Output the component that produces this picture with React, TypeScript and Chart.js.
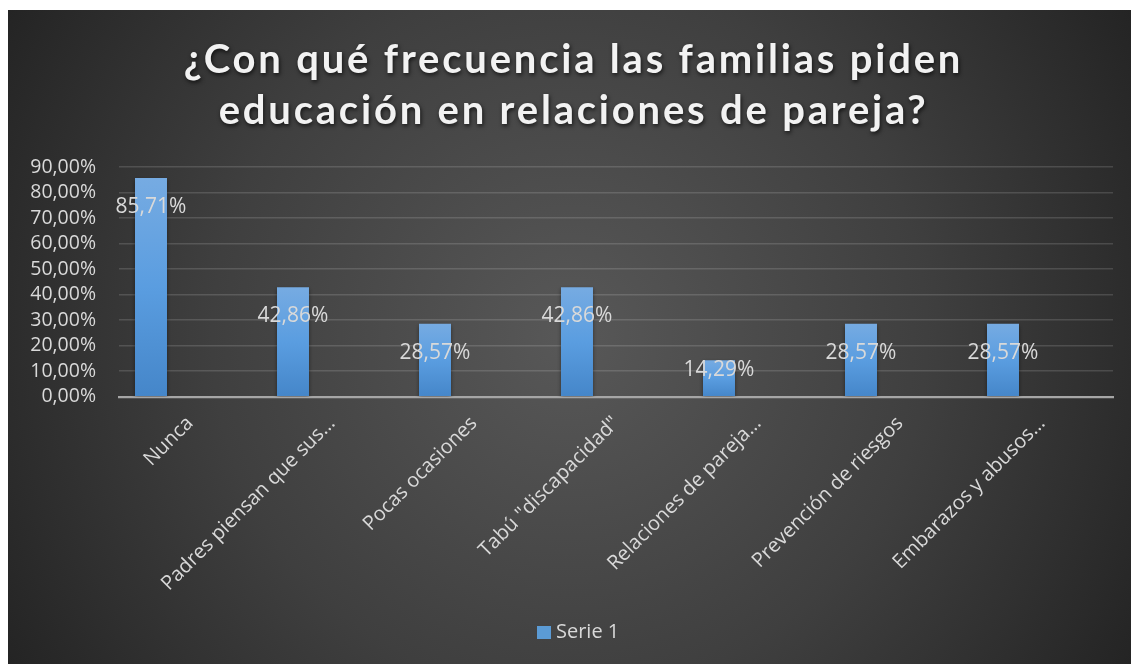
import React, { useEffect, useRef } from "react";
import { Chart, registerables } from "chart.js";

Chart.register(...registerables);

const titleLines = ["¿Con qué frecuencia las familias piden", "educación en relaciones de pareja?"];
const categories = [
  "Nunca",
  "Padres piensan que sus…",
  "Pocas ocasiones",
  'Tabú "discapacidad"',
  "Relaciones de pareja…",
  "Prevención de riesgos",
  "Embarazos y abusos…",
];
const serie1 = [85.71, 42.86, 28.57, 42.86, 14.29, 28.57, 28.57];
const emptySeries: (number | null)[] = [null, null, null, null, null, null, null];
const seriesName = "Serie 1";
const yMax = 90;
const yStep = 10;

const fmt = (v: number) => v.toFixed(2).replace(".", ",") + "%";

const bgPlugin = {
  id: "bgPlugin",
  beforeDraw(chart: any) {
    const { ctx, width, height } = chart;
    ctx.save();
    const g = ctx.createRadialGradient(width / 2, height * 0.5, 0, width / 2, height * 0.5, Math.hypot(width / 2, height / 2));
    g.addColorStop(0, "#585858");
    g.addColorStop(0.55, "#3f3f3f");
    g.addColorStop(1, "#242424");
    ctx.fillStyle = g;
    ctx.fillRect(0, 0, width, height);
    ctx.restore();
  },
  beforeDatasetsDraw(chart: any) {
    const ctx = chart.ctx;
    ctx.shadowColor = "rgba(0,0,0,0.45)";
    ctx.shadowBlur = 4;
    ctx.shadowOffsetY = 2;
  },
  afterDatasetsDraw(chart: any) {
    const ctx = chart.ctx;
    ctx.shadowColor = "transparent";
    ctx.shadowBlur = 0;
    ctx.shadowOffsetY = 0;
    const meta = chart.getDatasetMeta(0);
    ctx.save();
    ctx.font = "21px 'Open Sans'";
    ctx.fillStyle = "#d9d9d9";
    ctx.textAlign = "center";
    ctx.textBaseline = "middle";
    meta.data.forEach((bar: any, i: number) => {
      const y = Math.min(bar.y + 29, bar.base - 26);
      ctx.fillText(fmt(serie1[i]), bar.x, y);
    });
    ctx.restore();
  },
  afterDraw(chart: any) {
    const ctx = chart.ctx;
    ctx.save();
    ctx.font = "bold 40px Lato";
    (ctx as any).letterSpacing = "2.8px";
    ctx.fillStyle = "#f2f2f2";
    ctx.textAlign = "center";
    ctx.textBaseline = "middle";
    ctx.shadowColor = "rgba(0,0,0,0.7)";
    ctx.shadowBlur = 4;
    ctx.shadowOffsetX = 1;
    ctx.shadowOffsetY = 2;
    const cx = chart.width / 2 + 4;
    titleLines.forEach((t, i) => ctx.fillText(t, cx, 50 + i * 51));
    ctx.restore();

    // legend
    ctx.save();
    ctx.fillStyle = "#5b9bd5";
    ctx.fillRect(529, 616, 14, 13);
    ctx.font = "20px 'Open Sans'";
    ctx.fillStyle = "#d9d9d9";
    ctx.textAlign = "left";
    ctx.textBaseline = "middle";
    ctx.fillText(seriesName, 548, 622);
    ctx.restore();
  },
};

function barColor(c: any) {
  const chart = c.chart;
  const v = c.parsed ? c.parsed.y : undefined;
  if (v == null || !chart.scales || !chart.scales.y) return "#5b9bd5";
  const y = chart.scales.y;
  const top = y.getPixelForValue(v);
  const base = y.getPixelForValue(0);
  if (!isFinite(top) || !isFinite(base) || base - top < 1) return "#5b9bd5";
  const g = chart.ctx.createLinearGradient(0, top, 0, base);
  g.addColorStop(0, "#76abe2");
  g.addColorStop(0.5, "#5a9de0");
  g.addColorStop(1, "#4586c9");
  return g;
}

export default function App() {
  const ref = useRef<HTMLCanvasElement>(null);
  useEffect(() => {
    document.body.style.overflow = "hidden";
    const chart = new Chart(ref.current!, {
      type: "bar",
      data: {
        labels: categories,
        datasets: [
          { label: seriesName, data: serie1, backgroundColor: barColor, borderWidth: 0 },
          { label: "", data: emptySeries, backgroundColor: "#5b9bd5" },
          { label: "", data: emptySeries, backgroundColor: "#5b9bd5" },
        ],
      },
      options: {
        animation: false,
        responsive: true,
        maintainAspectRatio: false,
        datasets: { bar: { categoryPercentage: 0.824, barPercentage: 0.82 } },
        layout: { padding: { top: 157, right: 18, bottom: 50, left: 0 } },
        plugins: {
          title: { display: false },
          tooltip: { enabled: false },
          legend: { display: false },
        },
        scales: {
          x: {
            grid: { display: false, drawTicks: false },
            border: { display: true, color: "#a6a6a6", width: 2.2 },
            ticks: {
              color: "#d9d9d9",
              font: { family: "'Open Sans'", size: 20 },
              minRotation: 45,
              maxRotation: 45,
              padding: 15,
              autoSkip: false,
            },
            afterFit: (s: any) => {
              s.height = 217.3;
            },
          },
          y: {
            min: 0,
            max: yMax,
            ticks: {
              stepSize: yStep,
              autoSkip: false,
              color: "#d9d9d9",
              font: { family: "'Open Sans'", size: 19.5 },
              padding: 23,
              callback: (v: any) => fmt(Number(v)),
            },
            grid: { color: "rgba(255,255,255,0.14)", lineWidth: 1.5, drawTicks: false },
            border: { display: false },
            afterFit: (s: any) => {
              s.width = 111;
            },
          },
        },
      },
      plugins: [bgPlugin],
    });
    return () => chart.destroy();
  }, []);
  return (
    <div style={{ position: "fixed", left: 8, top: 10, width: 1123, height: 654 }}>
      <canvas ref={ref} />
    </div>
  );
}
